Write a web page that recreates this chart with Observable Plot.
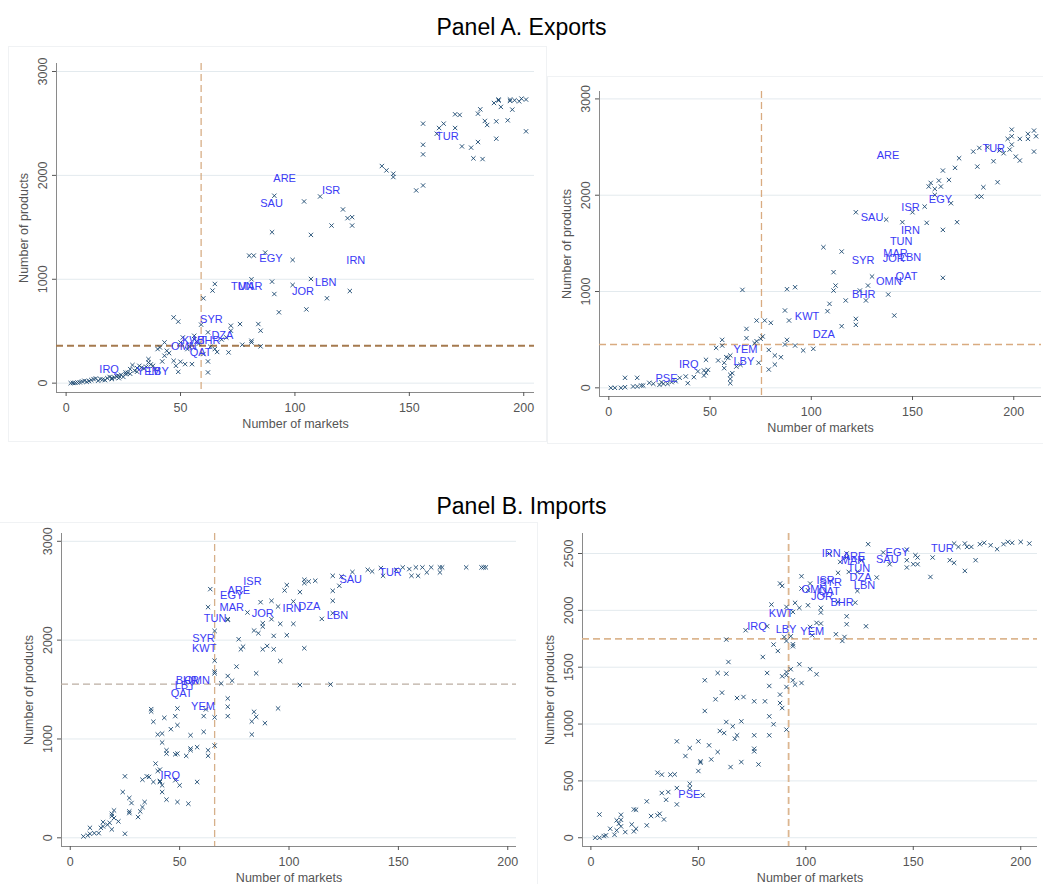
<!DOCTYPE html>
<html><head><meta charset="utf-8">
<script src="https://cdn.jsdelivr.net/npm/d3@7"></script>
<script src="https://cdn.jsdelivr.net/npm/@observablehq/plot@0.6"></script>
<style>
body{margin:0;background:#fff;font-family:"Liberation Sans",Arial,sans-serif;}
#root{position:relative;width:1043px;height:884px;overflow:hidden;background:#fff}
.title{position:absolute;left:0;width:1043px;text-align:center;font-size:23px;line-height:26px;color:#000}
.panel{position:absolute}
.border{position:absolute;border:1px solid #f0f2f4;box-sizing:border-box}
</style></head><body><div id="root">
<div class="border" style="left:8px;top:46px;width:539px;height:396px"></div>
<div class="border" style="left:547px;top:76px;width:510px;height:368px"></div>
<div class="border" style="left:-5px;top:522px;width:543px;height:400px"></div>
<div class="title" style="top:14px">Panel A. Exports</div>
<div class="title" style="top:493px">Panel B. Imports</div>
<div id="p1" class="panel" style="left:0px;top:40px"></div>
<div id="p2" class="panel" style="left:547px;top:76px"></div>
<div id="p3" class="panel" style="left:0px;top:515px"></div>
<div id="p4" class="panel" style="left:540px;top:515px"></div>
</div>
<script>
// ---------- Panel A (exports), left ----------
const expL_markets = [138,140,143,143,153,156,156,156,156,163,165,162,170,170,172,173,177,178,182,180,180,181,183,184,187,189,188,188,190,193,194,195,196,198,199,201,201,194,189,
91,104,111,121,123,125,116,125,107,90,80,82,87,99,81,107,90,99,124,91,114,105,93,65,64,60,47,49,59,72,72,76,84,85,81,81,77,85,71,65,62,62,62,60,56,56,53,50,51,43,41,40,45,43,42,36,36,47,48,49,50,52,55,29,28,31,32,35,26,23,21,18,15,12,14,9,7,5,2,8,17,20,23,26,38,39,44,
10,11,13,16,19,22,24,27,30,33,34,25,6,4,3,20,28,31,37,57,58,54,66,63,68,70];
const expL_products = [2090,2048,2016,1984,1855,1903,2202,2295,2498,2456,2498,2401,2456,2588,2582,2279,2267,2164,2157,2321,2594,2636,2524,2485,2697,2730,2520,2353,2659,2530,2717,2633,2723,2713,2739,2730,2424,2730,2720,
1804,1749,1797,1672,1588,1598,1517,1517,1427,1453,1228,1228,1257,1186,1000,1003,977,945,887,858,817,710,682,955,891,817,633,592,563,553,505,569,569,505,408,392,370,354,296,328,489,103,209,280,456,424,328,392,440,392,344,328,289,264,209,231,199,215,167,109,206,183,183,174,135,145,167,158,87,71,55,48,39,39,23,13,16,6,0,23,29,39,48,103,167,135,312,
20,30,45,35,60,65,80,100,120,150,140,60,8,3,2,50,90,110,180,400,380,350,300,350,420,440];
const expL_iso = ["ARE","ISR","SAU","TUR","EGY","IRN","LBN","JOR","TUN","MAR","SYR","DZA","KWT","BHR","OMN","QAT","IRQ","YEM","LBY"];
const expL_isoMarkets = [95.5,115.8,89.8,166.6,89.5,126.6,113.5,103.5,77,80.5,63.5,68.3,56,62.4,51.5,58.8,18.8,36.1,40.3];
const expL_isoProducts = [1968,1855,1726,2370,1196,1180,965,884,929,929,609,455,407,407,352,295,129,109,109];
const expL_refMarkets = [59];
const expL_refProducts = [360];

// ---------- Panel A (exports), right ----------
const expR_markets = [199,199,197,199,198,201,203,207,203,210,211,210,207,195,193,190,192,185,182,184,182,180,183,187,173,171,168,165,163,164,161,158,159,161,169,156,157,172,165,165,145,150,137,122,106,115,111,112,111,130,128,124,117,127,109,138,141,108,122,122,115,92,88,66,87,89,80,77,73,68,68,76,75,73,72,88,87,92,96,101,79,82,85,82,79,74,56,56,53,54,57,59,58,60,57,61,60,60,60,63,65,48,47,48,47,49,44,42,39,38,35,33,31,27,25,22,20,17,14,14,8,12,8,6,3,1,29,26,16];
const expR_products = [2681,2612,2585,2526,2474,2401,2360,2637,2585,2671,2612,2453,2585,2436,2464,2353,2135,2083,1986,1986,2297,2453,2491,2498,2384,2284,2159,2256,2152,2090,2066,2090,2128,2003,1917,1882,1713,1720,1640,1142,1720,1823,1747,1823,1460,1415,1201,1062,1010,1156,1062,1010,907,907,872,969,751,796,716,654,640,1045,1024,1017,803,699,675,699,699,612,516,533,509,484,464,498,450,439,388,405,394,336,318,242,190,260,498,439,415,284,260,311,318,336,204,152,135,93,48,221,239,291,180,156,128,187,170,111,48,118,104,69,59,42,31,42,52,24,14,104,104,14,7,0,0,0,42,59,24];
const expR_iso = ["ARE","TUR","EGY","ISR","SAU","IRN","TUN","MAR","JOR","LBN","SYR","QAT","OMN","BHR","KWT","DZA","YEM","LBY","IRQ","PSE"];
const expR_isoMarkets = [137.9,190.1,163.8,149.0,130.0,149.0,144.4,141.6,140.7,149.0,125.6,147.0,138.3,125.9,97.9,106.2,67.5,66.7,39.5,28.5];
const expR_isoProducts = [2412,2481,1951,1868,1765,1633,1522,1398,1339,1356,1322,1159,1107,969,744,550,394,273,242,93];
const expR_refMarkets = [75.4];
const expR_refProducts = [450];

// ---------- Panel B (imports), left ----------
const impL_markets = [181,189,188,190,170,169,169,165,163,161,158,159,156,155,152,149,142,143,138,136,129,124,123,120,120,120,120,115,112,109,107,107,105,99,98,102,102,99,107,96,95,92,87,81,88,88,92,84,86,93,79,78,90,88,93,96,105,119,85,76,74,72,69,66,66,66,66,64,63,72,72,77,72,72,72,83,84,85,83,89,95,66,66,63,63,62,61,61,58,55,53,55,55,49,48,49,42,40,43,38,37,37,46,42,44,48,49,44,39,41,40,36,35,33,38,41,41,42,42,44,49,48,54,58,50,25,24,27,28,33,34,32,27,27,31,22,20,19,19,20,17,15,18,19,25,15,13,11,9,8,6,9,14];
const impL_products = [2736,2736,2736,2736,2736,2736,2685,2736,2685,2736,2736,2651,2651,2719,2736,2712,2729,2651,2695,2712,2689,2645,2550,2651,2499,2398,2273,2215,2601,2594,2611,2577,2486,2557,2503,2391,2165,2050,1918,2165,2340,2398,2384,2280,2171,2137,2212,2097,2070,2043,1934,1907,1941,1907,1907,1789,1546,1552,1664,1732,1590,1637,1562,1792,1681,1664,2093,2516,2334,2205,2212,2009,1410,1326,1231,1045,1275,1224,1177,1160,1309,1218,933,886,829,1299,1231,1072,917,903,829,886,1038,1309,1231,1140,1055,1045,1214,1174,1302,1278,1099,964,886,845,852,852,751,690,676,616,622,588,565,575,565,531,463,386,362,582,345,565,531,622,463,403,352,311,362,267,250,267,210,166,277,243,220,200,132,159,152,85,41,115,47,47,41,24,14,101,101,101];
const impL_iso = ["ISR","ARE","EGY","MAR","JOR","IRN","DZA","LBN","SAU","TUR","TUN","SYR","KWT","BHR","OMN","LBY","QAT","YEM","IRQ"];
const impL_isoMarkets = [83.3,77.0,73.8,73.8,88.0,101.4,109.3,122.2,128.2,146.4,66.2,60.9,61.2,53.5,58.0,52.5,50.9,60.7,45.7];
const impL_isoProducts = [2594,2499,2449,2330,2266,2323,2340,2246,2611,2689,2222,2012,1911,1593,1593,1539,1461,1332,632];
const impL_refMarkets = [66];
const impL_refProducts = [1555];

// ---------- Panel B (imports), right ----------
const impR_markets = [200,204,196,194,192,189,186,183,181,177,175,174,171,169,169,167,179,174,159,158,152,150,151,152,147,147,147,139,136,129,133,126,124,120,124,123,119,116,119,115,111,115,98,98,102,101,97,101,95,107,107,105,107,102,103,114,118,117,128,119,119,88,89,84,91,94,82,72,90,91,93,94,94,85,87,80,63,64,59,63,82,93,91,91,89,102,105,94,91,95,98,97,83,53,61,58,68,71,76,81,88,88,89,53,83,85,70,66,63,60,62,68,67,76,83,91,40,50,55,46,76,76,59,44,51,51,56,70,78,65,50,31,33,37,39,46,46,40,36,33,35,52,40,26,28,31,32,34,26,20,21,21,20,19,16,14,14,14,13,12,12,11,9,7,6,4,2,4];
const impR_products = [2602,2588,2594,2602,2582,2538,2573,2594,2582,2558,2558,2588,2558,2588,2418,2441,2441,2347,2465,2294,2406,2406,2485,2465,2441,2377,2535,2406,2509,2582,2289,2441,2338,2338,2171,2068,2465,2426,2500,2330,2500,2074,2300,2192,2236,2177,2022,2045,2066,2022,1981,1890,1884,1854,1781,1790,1766,1731,1860,1948,1878,2236,2215,2051,2030,1986,1860,1825,1766,1731,1772,1702,1684,1699,1643,1590,1743,1546,1449,1443,1449,1482,1458,1429,1420,1482,1438,1385,1326,1347,1361,1526,1335,1385,1276,1218,1229,1238,1200,1200,1259,1185,1141,1115,1068,998,1024,980,1018,939,921,901,871,901,901,951,848,848,813,789,783,760,754,719,672,660,689,666,645,622,587,572,555,555,557,475,437,437,402,393,334,373,293,320,191,197,211,161,109,249,246,79,56,117,50,100,202,158,123,153,65,26,79,21,15,0,0,205];
const impR_iso = ["TUR","EGY","SAU","IRN","ARE","MAR","JOR","TUN","DZA","LBN","ISR","SYR","OMN","QAT","BHR","KWT","IRQ","LBY","YEM","PSE"];
const impR_isoMarkets = [163.5,142.5,137.9,111.8,122.4,122.0,107.5,124.7,125.5,127.3,109.2,111.5,104.0,110.7,116.9,88.5,77.3,90.8,103.0,45.8];
const impR_isoProducts = [2544,2509,2447,2500,2476,2440,2120,2368,2289,2221,2265,2241,2183,2168,2068,1977,1860,1831,1810,381];
const impR_refMarkets = [92];
const impR_refProducts = [1750];

const xTickValues = [0, 50, 100, 150, 200];
const yTicksThousands = [0, 1000, 2000, 3000];
const yTicksHalf = [0, 500, 1000, 1500, 2000, 2500];

function panel(c) {
  const pts = c.markets.map((m, i) => ({markets: m, products: c.products[i]}));
  const labs = c.iso.map((t, i) => ({iso: t, markets: c.isoMarkets[i], products: c.isoProducts[i]}));
  const font = "Liberation Sans, Arial, sans-serif";
  const fmt = d3.format("d");
  return Plot.plot({
    width: c.width, height: c.height,
    marginLeft: c.m[0], marginTop: c.m[1], marginRight: c.m[2], marginBottom: c.m[3],
    style: {fontFamily: font, background: "transparent", overflow: "visible"},
    x: {domain: c.xDomain},
    y: {domain: c.yDomain},
    marks: [
      Plot.gridY(c.yTicks, {stroke: "#e3eaee", strokeOpacity: 1}),
      Plot.ruleX([c.xDomain[0]], {stroke: "#8a8a8a", strokeWidth: 1}),
      Plot.ruleY([c.yDomain[0]], {stroke: "#8a8a8a", strokeWidth: 1}),
      Plot.axisX(xTickValues, {tickSize: 4, tickPadding: 7, fontSize: 12.5, color: "#555", tickFormat: fmt,
        label: "Number of markets", labelAnchor: "center", labelOffset: 35, labelArrow: "none"}),
      Plot.axisY(c.yTicks, {tickRotate: -90, tickSize: 4, tickPadding: 6, fontSize: 12.5, color: "#555", tickFormat: fmt,
        label: "Number of products", labelAnchor: "center", labelOffset: 37, labelArrow: "none"}),
      Plot.ruleX(c.refMarkets, {stroke: c.vColor, strokeWidth: c.vWidth, strokeDasharray: "7,4"}),
      Plot.ruleY(c.refProducts, {stroke: c.hColor, strokeWidth: c.hWidth, strokeDasharray: "7,4"}),
      Plot.dot(pts, {x: "markets", y: "products", symbol: "times", r: 2.1, stroke: "#1a476f", strokeWidth: 0.9}),
      Plot.text(labs, {x: "markets", y: "products", text: "iso", fill: "#3a3af5", fontSize: 11})
    ]
  });
}

document.getElementById("p1").append(panel({
  markets: expL_markets, products: expL_products, iso: expL_iso, isoMarkets: expL_isoMarkets, isoProducts: expL_isoProducts,
  refMarkets: expL_refMarkets, refProducts: expL_refProducts,
  width: 545, height: 405, m: [56, 23, 11, 53],
  xDomain: [-4.2, 204.7], yDomain: [-90, 3077], yTicks: yTicksThousands,
  vColor: "#d4a77c", vWidth: 1.2, hColor: "#a57a4e", hWidth: 2
}));
document.getElementById("p2").append(panel({
  markets: expR_markets, products: expR_products, iso: expR_iso, isoMarkets: expR_isoMarkets, isoProducts: expR_isoProducts,
  refMarkets: expR_refMarkets, refProducts: expR_refProducts,
  width: 496, height: 372, m: [52, 15, 2, 52],
  xDomain: [-4.6, 213.7], yDomain: [-90, 3077], yTicks: yTicksThousands,
  vColor: "#d9ab80", vWidth: 1.3, hColor: "#d9ab80", hWidth: 1.3
}));
document.getElementById("p3").append(panel({
  markets: impL_markets, products: impL_products, iso: impL_iso, isoMarkets: impL_isoMarkets, isoProducts: impL_isoProducts,
  refMarkets: impL_refMarkets, refProducts: impL_refProducts,
  width: 540, height: 369, m: [61, 18, 24, 38],
  xDomain: [-4, 204], yDomain: [-88, 3079], yTicks: yTicksThousands,
  vColor: "#d6b08a", vWidth: 1.3, hColor: "#bcaea2", hWidth: 1.3
}));
document.getElementById("p4").append(panel({
  markets: impR_markets, products: impR_products, iso: impR_iso, isoMarkets: impR_isoMarkets, isoProducts: impR_isoProducts,
  refMarkets: impR_refMarkets, refProducts: impR_refProducts,
  width: 503, height: 369, m: [42, 18, 6, 38],
  xDomain: [-3.9, 207.8], yDomain: [-77, 2676], yTicks: yTicksHalf,
  vColor: "#dcb690", vWidth: 1.8, hColor: "#dcb690", hWidth: 1.8
}));
</script>
</body></html>
